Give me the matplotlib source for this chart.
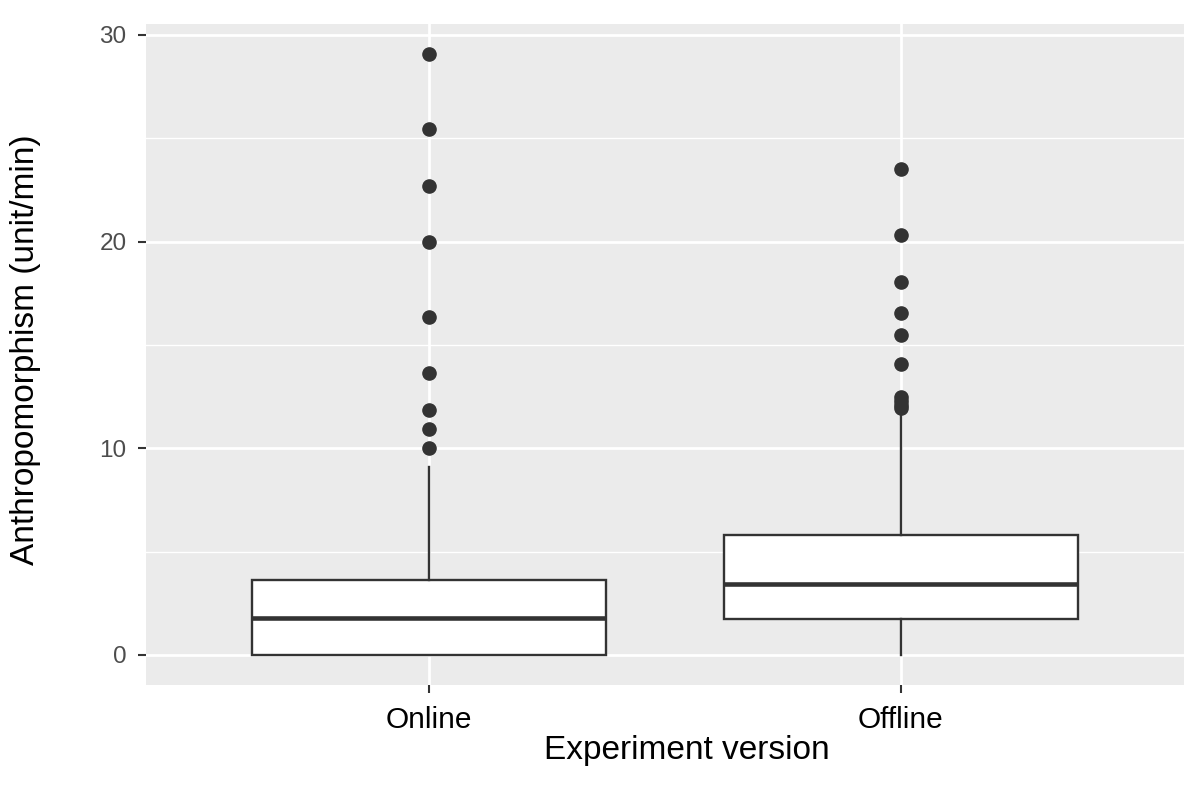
import matplotlib
matplotlib.use('Agg')
import matplotlib.pyplot as plt
from matplotlib.ticker import MultipleLocator

# values
groups = ['Online', 'Offline']
q1 = [0.0, 1.74]
medians = [1.79, 3.43]
q3 = [3.62, 5.80]
whisker_low = [0.0, 0.0]
whisker_high = [9.1, 11.8]
online_outliers = [29.08, 25.45, 22.7, 20.0, 16.35, 13.62, 11.84, 10.92, 10.0]
offline_outliers = [23.5, 20.3, 18.07, 16.57, 15.46, 14.06, 12.5, 12.3, 12.1, 11.95]
outliers = [online_outliers, offline_outliers]

plt.rcParams['font.family'] = ['Liberation Sans', 'DejaVu Sans']

fig = plt.figure(figsize=(11.92, 7.85), dpi=100)
ax = fig.add_axes([0.1225, 0.1274, 0.8708, 0.842])

stats = []
for i, g in enumerate(groups):
    stats.append({'label': g, 'q1': q1[i], 'med': medians[i], 'q3': q3[i],
                  'whislo': whisker_low[i], 'whishi': whisker_high[i],
                  'fliers': outliers[i]})

ax.bxp(stats, positions=[1, 2], widths=0.75, showcaps=False, patch_artist=True,
       boxprops=dict(facecolor='white', edgecolor='#333333', linewidth=1.7),
       medianprops=dict(color='#333333', linewidth=3.3),
       whiskerprops=dict(color='#333333', linewidth=1.7),
       flierprops=dict(marker='o', markerfacecolor='#333333', markeredgecolor='#333333',
                       markersize=9.5),
       zorder=3)

ax.set_facecolor('#EBEBEB')
ax.set_xlim(0.4, 2.6)
ax.set_ylim(-1.454, 30.53)
ax.yaxis.set_major_locator(MultipleLocator(10))
ax.yaxis.set_minor_locator(MultipleLocator(5))
ax.grid(which='major', color='white', linewidth=2.0, zorder=0)
ax.grid(which='minor', axis='y', color='white', linewidth=1.0, zorder=0)
ax.set_axisbelow(True)
for s in ax.spines.values():
    s.set_visible(False)

ax.tick_params(axis='y', which='major', labelsize=17.5, labelcolor='#4D4D4D',
               color='#333333', length=6, width=1.5, pad=8)
ax.tick_params(axis='x', which='major', labelsize=21.5, labelcolor='black',
               color='#333333', length=6, width=1.5, pad=9)
ax.tick_params(which='minor', length=0)

ax.set_xlabel('Experiment version', fontsize=24)
ax.xaxis.set_label_coords(0.521, -0.075)
ax.set_ylabel('Anthropomorphism (unit/min)', fontsize=24)
ax.yaxis.set_label_coords(-0.101, 0.507)

fig.savefig('out.png', dpi=100)
